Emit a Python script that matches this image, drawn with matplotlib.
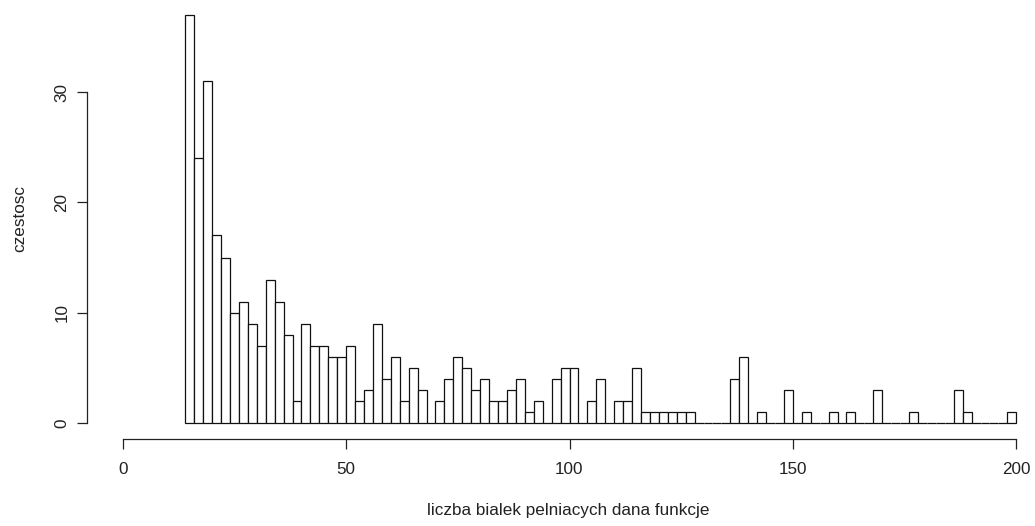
import numpy as np
import matplotlib
matplotlib.use("Agg")
import matplotlib.pyplot as plt

plt.rcParams['font.family'] = ['Liberation Sans', 'DejaVu Sans']

# histogram bins: width 2, from 14 to 200
bin_edges = np.arange(14, 201, 2)
counts = [37, 24, 31, 17, 15, 10, 11, 9, 7, 13, 11, 8, 2, 9, 7, 7, 6, 6, 7,
          2, 3, 9, 4, 6, 2, 5, 3, 0, 2, 4, 6, 5, 3, 4, 2, 2, 3, 4,
          1, 2, 0, 4, 5, 5, 0, 2, 4, 0, 2, 2, 5, 1, 1, 1, 1, 1, 1,
          0, 0, 0, 0, 4, 6, 0, 1, 0, 0, 3, 0, 1, 0, 0, 1, 0, 1, 0, 0, 3,
          0, 0, 0, 1, 0, 0, 0, 0, 3, 1, 0, 0, 0, 0, 1]
x_ticks = [0, 50, 100, 150, 200]
y_ticks = [0, 10, 20, 30]

W, H = 1035, 526
fig = plt.figure(figsize=(W / 100, H / 100), dpi=100)
left, right, top, bottom = 87, 1052, -1.4, 439.3
ax = fig.add_axes([left / W, 1 - bottom / H, (right - left) / W, (bottom - top) / H])

ax.bar(bin_edges[:-1], counts, width=np.diff(bin_edges), align='edge',
       facecolor='white', edgecolor='#111111', linewidth=0.9)

ax.set_xlim(-8, 208)
ax.set_ylim(-1.48, 38.48)

for s in ['top', 'right']:
    ax.spines[s].set_visible(False)
ax.spines['bottom'].set_bounds(0, 200)
ax.spines['left'].set_bounds(0, 30)
for s in ['bottom', 'left']:
    ax.spines[s].set_linewidth(0.9)
    ax.spines[s].set_color('#222222')

ax.set_xticks(x_ticks)
ax.set_yticks(y_ticks)
ax.tick_params(axis='both', direction='out', length=7.2, width=0.9,
               color='#222222', labelsize=12.3, labelcolor='#222222')
ax.tick_params(axis='x', pad=9.4)
ax.tick_params(axis='y', pad=5.4)
for lab in ax.get_yticklabels():
    lab.set_rotation(90)
    lab.set_va('center')

fig.text(568 / W, 1 - 511 / H, 'liczba bialek pelniacych dana funkcje',
         ha='center', va='center', fontsize=12.3, color='#222222')
fig.text(20 / W, 1 - 218 / H, 'czestosc', rotation=90,
         ha='center', va='center', fontsize=12.3, color='#222222')

fig.savefig('out.png', dpi=100)
